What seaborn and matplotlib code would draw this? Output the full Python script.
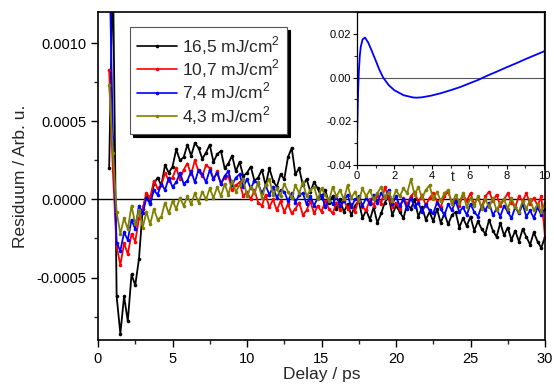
import numpy as np
import pandas as pd
import matplotlib
matplotlib.use("Agg")
import matplotlib.pyplot as plt
from matplotlib.ticker import MultipleLocator, FormatStrFormatter
import seaborn as sns

# residual traces, values in units of 1e-5
delay = np.arange(0.75, 30.01, 0.25)

res_165 = [20, 150, -62, -86, -62, -78, -48, -55, -38, -6, 3, -2, 10, 14, 9, 22, 17, 21, 32, 25,
           27, 35, 28, 36, 33, 26, 30, 35, 24, 29, 31, 20, 23, 28, 18, 24, 15, 17, 21, 12,
           14, 19, 9, 20, 12, 8, 16, 13, 27, 33, 16, 20, 9, 13, 5, 11, 7, 1, 6, -2,
           2, -6, 0, -8, -3, -10, -4, -1, -12, -7, -13, -5, -15, -9, -2, 2, -10, -4, -8, -12,
           -3, -6, 0, -11, -5, -13, -8, -14, -6, -15, -9, -16, -10, -8, -18, -12, -17, -11, -20, -14,
           -19, -22, -13, -20, -24, -15, -23, -18, -26, -20, -27, -19, -24, -29, -21, -27, -31, -24]
res_107 = [83, 18, -30, -42, -28, -35, -22, -27, -12, -6, 4, 1, 12, 7, 9, 17, 12, 14, 20, 13,
           19, 23, 16, 25, 18, 15, 22, 20, 13, 18, 10, 14, 15, 6, 9, 11, 2, 5, 0, 6,
           -2, -4, 3, -5, 0, -7, -1, -8, -3, -9, -6, -2, -10, -7, -1, -9, -4, -8, -1, -6,
           -9, -2, -7, 0, -6, -3, -8, 1, -5, -7, 0, -4, 3, -3, 8, 1, -5, -2, -6, 1,
           -3, 2, 5, -2, 3, -4, 1, 4, -1, -5, 2, 5, -2, 0, -4, 3, -1, 4, -3, 1,
           -5, 2, 5, -1, 3, -4, 0, 4, -2, -5, 2, -1, 4, -3, 1, -4, 2, -24]
res_74 = [160, 40, -28, -33, -21, -26, -13, -19, -4, -9, 1, -3, 6, 3, 10, 6, 14, 8, 11, 17,
          10, 12, 18, 11, 19, 16, 11, 19, 13, 17, 10, 15, 18, 9, 14, 16, 8, 13, 7, 12,
          10, 4, 9, 3, 8, 1, 6, 5, -1, 4, -2, 3, 4, -3, 2, -4, 1, 3, -5, 0,
          -3, 2, -4, -1, 3, -5, 0, 2, -4, 1, -3, 3, -2, 4, 1, 6, -3, 2, -4, 0,
          -6, 1, -5, -2, -8, -3, -7, -9, -2, -6, -10, -3, -7, -1, -8, -5, -10, -3, -8, -11,
          -4, -7, -2, -10, -6, -11, -4, -8, -12, -5, -9, -3, -11, -7, -12, -5, -10, -6]
res_43 = [73, 30, -8, -22, -12, -19, -4, -16, -7, -18, -8, -16, -6, -13, -11, -2, -9, -1, -6, 1,
          -4, 2, -3, 4, -2, 5, 0, 7, 1, 8, 2, 10, 3, 12, 5, 9, 13, 2, 8, 4,
          11, 1, 9, 13, 3, 7, 2, 10, 5, 1, 9, 4, 11, 2, 6, 8, 0, 7, 3, -1,
          8, 2, 6, 0, 9, 1, 5, -1, 7, 2, 6, 0, 4, 8, 1, 5, -1, 6, 2, 7,
          4, 13, 3, 8, 1, 6, 9, 0, 5, -1, 4, 6, -3, 3, -2, 4, -5, 1, -4, 2,
          -6, 0, -5, 1, -7, -2, 0, -6, 1, -5, -8, -1, -6, 0, -7, -3, -8, -2]

labels = ["16,5 mJ/cm$^2$", "10,7 mJ/cm$^2$", "7,4 mJ/cm$^2$", "4,3 mJ/cm$^2$"]
colors = ["#000000", "#ff0000", "#0000ff", "#808000"]

# inset: model curve
t_inset = [0.0, 0.03, 0.06, 0.1, 0.15, 0.2, 0.3, 0.43, 0.6, 0.8, 1.0, 1.2, 1.4, 1.7, 2.0, 2.5,
           3.0, 3.2, 3.5, 4.0, 4.5, 5.0, 5.5, 6.0, 6.5, 7.0, 7.5, 8.0, 8.5, 9.0, 9.5, 10.0]
y_inset = [-0.0295, -0.017, -0.006, 0.003, 0.010, 0.014, 0.0175, 0.0183, 0.016, 0.012, 0.0078, 0.0035,
           0.0, -0.0035, -0.0058, -0.0081, -0.0091, -0.0092, -0.009, -0.0082, -0.0071, -0.0058, -0.0044,
           -0.0027, -0.001, 0.001, 0.0028, 0.0047, 0.0065, 0.0084, 0.0102, 0.012]

df = pd.concat([pd.DataFrame({"Delay": delay, "Residuum": np.array(v) * 1e-5, "Fluence": lab})
                for v, lab in zip([res_165, res_107, res_74, res_43], labels)])

sns.set_style("ticks")
plt.rcParams["font.family"] = ["Liberation Sans", "DejaVu Sans"]
plt.rcParams["mathtext.fontset"] = "custom"
plt.rcParams["mathtext.rm"] = "Liberation Sans"

fig = plt.figure(figsize=(5.54, 3.85), dpi=100)
ax = fig.add_axes([98 / 554, 1 - 340 / 385, 447 / 554, 328 / 385])

ax.axhline(0, color="black", lw=1, zorder=1)
sns.lineplot(data=df, x="Delay", y="Residuum", hue="Fluence", palette=colors, hue_order=labels,
             estimator=None, sort=False, marker="o", markersize=2.6, markeredgewidth=0,
             linewidth=1.3, ax=ax)

ax.set_xlim(0, 30)
ax.set_ylim(-0.0009, 0.0012)
ax.xaxis.set_major_locator(MultipleLocator(5))
ax.xaxis.set_minor_locator(MultipleLocator(2.5))
ax.yaxis.set_major_locator(MultipleLocator(0.0005))
ax.yaxis.set_minor_locator(MultipleLocator(0.00025))
ax.yaxis.set_major_formatter(FormatStrFormatter("%.4f"))
ax.tick_params(which="major", length=5, width=1, labelsize=10.5, colors="black")
ax.tick_params(which="minor", length=3, width=1)
for s in ax.spines.values():
    s.set_linewidth(1.2)
    s.set_color("black")
ax.set_xlabel("Delay / ps", fontsize=12.5, labelpad=1)
ax.set_ylabel("Residuum / Arb. u.", fontsize=12.5, labelpad=6)

leg = ax.legend(loc="upper left", bbox_to_anchor=(130 / 554, 1 - 27 / 385),
                bbox_transform=fig.transFigure, fontsize=12.5, frameon=True, fancybox=False,
                shadow={"color": "black", "alpha": 1}, handlelength=2.3, handletextpad=0.3,
                borderpad=0.4, labelspacing=0.05, borderaxespad=0)
leg.get_frame().set_edgecolor("#555555")
leg.get_frame().set_linewidth(0.8)
for h in leg.legend_handles:
    h.set_linewidth(1.2)

# inset
axin = fig.add_axes([357 / 554, 1 - 165 / 385, 187 / 554, 153 / 385])
axin.set_facecolor("white")
axin.axhline(0, color="#555555", lw=0.8)
sns.lineplot(x=t_inset, y=y_inset, color="#0000ff", linewidth=1.3, ax=axin)
axin.set_xlim(0, 10)
axin.set_ylim(-0.04, 0.03)
axin.xaxis.set_major_locator(MultipleLocator(2))
axin.xaxis.set_minor_locator(MultipleLocator(1))
axin.yaxis.set_major_locator(MultipleLocator(0.02))
axin.yaxis.set_minor_locator(MultipleLocator(0.01))
axin.yaxis.set_major_formatter(FormatStrFormatter("%.2f"))
axin.tick_params(which="major", length=3, width=0.8, labelsize=8, pad=1, colors="black")
axin.tick_params(which="minor", length=2, width=0.8)
for s in axin.spines.values():
    s.set_linewidth(0.9)
    s.set_color("black")
axin.set_xlabel("t", fontsize=10)
axin.xaxis.set_label_coords(0.51, -0.03)

fig.savefig("out.png", dpi=100)
